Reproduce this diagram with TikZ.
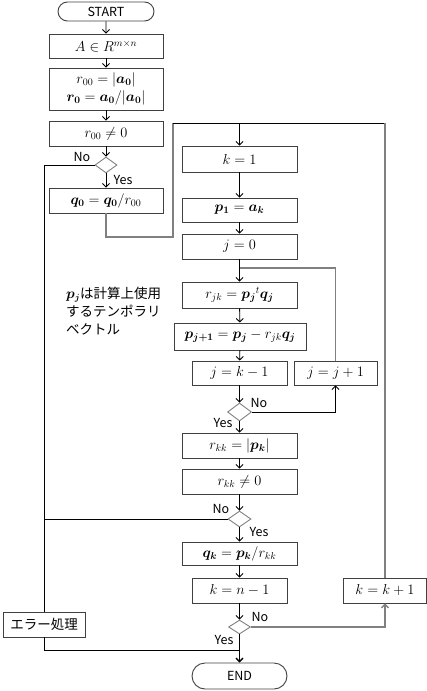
\documentclass[tikz,border=0pt]{standalone}
\usepackage{fontspec}
\usepackage{amsmath,bm}
\newfontfamily\jp{Noto Sans CJK JP}
\usetikzlibrary{shapes.geometric,shapes.misc,arrows.meta}
\definecolor{boxgray}{HTML}{404040}
\definecolor{loopgray}{HTML}{808080}
\tikzset{
  box/.style={draw=boxgray, line width=0.9pt, minimum width=115pt, minimum height=25pt,
    inner sep=0pt, font=\fontsize{14.4}{18}\selectfont, align=center},
  term/.style={rounded rectangle, draw=boxgray, line width=0.9pt, minimum width=96pt,
    minimum height=19pt, inner sep=0pt, font=\jp\fontsize{12.5}{14}\selectfont},
  dec/.style={diamond, draw=loopgray, line width=0.9pt, minimum width=23pt,
    minimum height=16pt, inner sep=0pt},
  lab/.style={font=\jp\fontsize{12.5}{14}\selectfont, inner sep=0pt},
  link/.style={line width=0.9pt},
  glink/.style={line width=1.4pt, draw=loopgray},
  arr/.style={link, ->},
}
\begin{document}
\begin{tikzpicture}[x=1pt, y=-1pt, >={Straight Barb[length=3.5pt,width=7pt]}]
  \useasboundingbox (0,0) rectangle (427,691);

  % left column
  \node[term] (start) at (106,11.5) {START};
  \node[box, minimum width=114pt, minimum height=24pt] (amat) at (106,46) {$A \in R^{m\times n}$};
  \node[box, minimum width=114pt, minimum height=42pt] (rzero) at (106,89)
    {$r_{00} = |\bm{a_0}|$\\$\bm{r_0} = \bm{a_0}/|\bm{a_0}|$};
  \node[box, minimum width=114pt] (rzerone) at (106,133.5) {$r_{00} \neq 0$};
  \node[dec, minimum width=22pt] (dzero) at (106,165) {};
  \node[box, minimum width=114pt] (qzero) at (106,200.5) {$\bm{q_0} = \bm{q_0}/r_{00}$};
  \node[box, minimum width=82pt] (err) at (44,624.5) {\jp\fontsize{13.5}{16}\selectfont エラー処理};

  % note
  \node[anchor=north west, align=left, inner sep=0pt, font=\jp\fontsize{13.5}{18}\selectfont]
    (note) at (66,287) {$\bm{p_j}$は計算上使用\\するテンポラリ\\ベクトル};

  % main column
  \node[box, minimum height=26pt] (kone) at (239.5,159) {$k = 1$};
  \node[box, minimum height=24pt] (pone) at (239.5,210) {$\bm{p_1} = \bm{a_k}$};
  \node[box] (jzero) at (239.5,246.5) {$j = 0$};
  \node[box, minimum height=26pt] (rjk) at (239.5,295) {$r_{jk} = {\bm{p_j}}^{t}\bm{q_j}$};
  \node[box, minimum width=132pt, minimum height=27pt] (pnext) at (240,336.5)
    {$\bm{p_{j+1}} = \bm{p_j} - r_{jk}\bm{q_j}$};
  \node[box, minimum width=95pt, minimum height=24pt] (jlast) at (239.5,373) {$j = k-1$};
  \node[box, minimum width=83pt, minimum height=24pt] (jinc) at (335.5,373) {$j = j+1$};
  \node[dec, minimum width=24pt, minimum height=18pt] (dj) at (239.5,412) {};
  \node[box] (rkk) at (239.5,445.5) {$r_{kk} = |\bm{p_k}|$};
  \node[box] (rkkne) at (239.5,481.5) {$r_{kk} \neq 0$};
  \node[dec] (dr) at (239.5,519) {};
  \node[box, minimum height=23pt] (qk) at (239.5,553.5) {$\bm{q_k} = \bm{p_k}/r_{kk}$};
  \node[box, minimum width=95pt] (klast) at (239.5,590.5) {$k = n-1$};
  \node[box, minimum width=83pt] (kinc) at (385,590.5) {$k = k+1$};
  \node[dec, minimum width=22pt, minimum height=14pt] (dk) at (239.5,627) {};
  \node[term, minimum width=95pt, minimum height=26pt] (end) at (239.5,676) {END};

  % Yes / No labels
  \node[lab] (dzerono) at (82,157) {No};
  \node[lab] (dzeroyes) at (123,180) {Yes};
  \node[lab] (djno) at (259,403) {No};
  \node[lab] (djyes) at (223,423) {Yes};
  \node[lab] (drno) at (221,509) {No};
  \node[lab] (dryes) at (259,532) {Yes};
  \node[lab] (dkno) at (260,617) {No};
  \node[lab] (dkyes) at (224,640) {Yes};

  % join points
  \coordinate (qturn) at (173,237);
  \coordinate (ktop) at (239.5,123);
  \coordinate (jtop) at (239.5,268);
  \coordinate (ejoin) at (239.5,650);

  % left column arrows
  \draw[arr] (start) -- (amat);
  \draw[arr] (amat) -- (rzero);
  \draw[arr] (rzero) -- (rzerone);
  \draw[arr] (rzerone) -- (dzero);
  \draw[arr] (dzero) -- (qzero);
  \draw[link] (dzero.west) -| (err.north);
  \draw[link] (err.south) |- (ejoin);

  % outer loop over k
  \draw[glink] (qzero.south) |- (qturn) -- (qturn |- ktop);
  \draw[link] (qturn |- ktop) -- (kinc.north |- ktop);
  \draw[glink] (kinc.north) -- (kinc.north |- ktop);
  \draw[arr] (ktop) -- (kone);
  \draw[arr] (kone) -- (pone);
  \draw[arr] (pone) -- (jzero);
  \draw[arr] (jzero) -- (rjk);
  \draw[glink] (jinc.north) |- (jtop);
  \draw[arr] (rjk) -- (pnext);
  \draw[arr] (pnext) -- (jlast);
  \draw[arr] (jlast) -- (dj);
  \draw[arr] (dj.east) -| (jinc.south);
  \draw[arr] (dj) -- (rkk);
  \draw[arr] (rkk) -- (rkkne);
  \draw[arr] (rkkne) -- (dr);
  \draw[link] (dr.west) -- (dr.west -| err.north);
  \draw[arr] (dr) -- (qk);
  \draw[arr] (qk) -- (klast);
  \draw[arr] (klast) -- (dk);
  \draw[glink, ->] (dk.east) -| (kinc.south);
  \draw[line width=1.4pt, ->] (dk) -- (end);

\end{tikzpicture}
\end{document}
